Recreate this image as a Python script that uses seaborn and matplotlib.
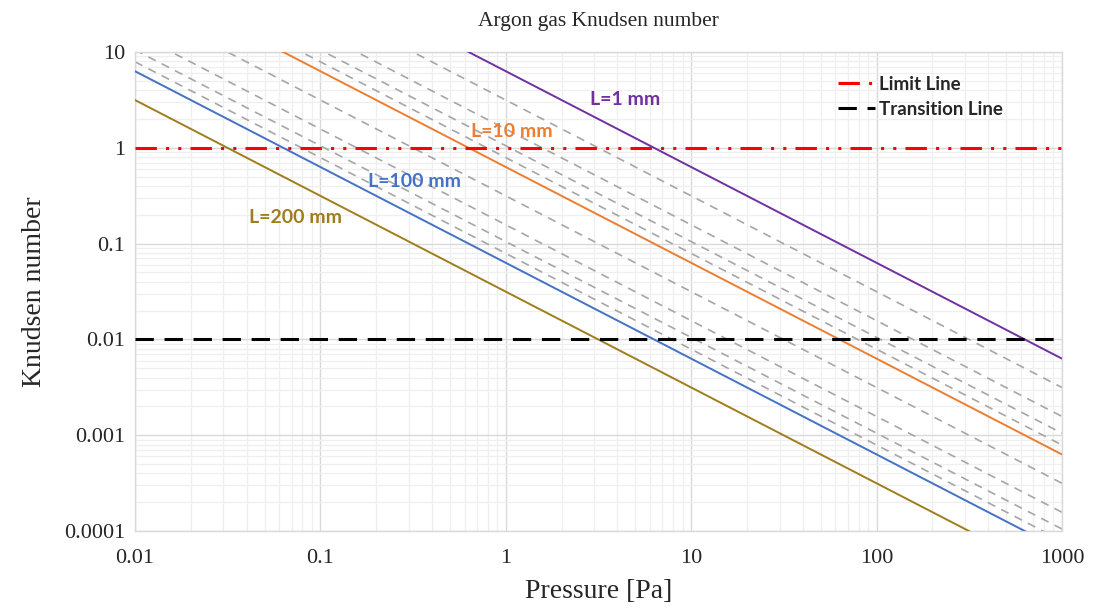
import numpy as np
import pandas as pd
import matplotlib
matplotlib.use("Agg")
import matplotlib.pyplot as plt
import matplotlib.ticker as mticker
import seaborn as sns

# Pressure range of the chart (Pa) - each Knudsen line is straight on log-log axes
pressure = [0.01, 1000]

# Knudsen number at p = 0.01 Pa and p = 1000 Pa
main_labels = ["L=1 mm", "L=10 mm", "L=100 mm", "L=200 mm"]
main_kn_start = [630, 63, 6.3, 3.15]
main_kn_end = [0.0063, 0.00063, 0.000063, 0.0000315]
main_colors = ["#7030A0", "#ED7D31", "#4472C4", "#A07D1C"]

# intermediate lengths (grey dashed), L = 2, 4, 6, 8 mm and 20, 40, 60, 80 mm
grey_lengths = [2, 4, 6, 8, 20, 40, 60, 80]
grey_kn_start = [315, 157, 105, 79, 31.5, 15.7, 10.5, 7.9]
grey_kn_end = [0.00315, 0.00157, 0.00105, 0.00079, 0.000315, 0.000157, 0.000105, 0.000079]

limit_kn = 1.0
transition_kn = 0.01

sns.set_style("white")
plt.rcParams["font.family"] = ["Liberation Serif", "DejaVu Serif"]

fig = plt.figure(figsize=(10.94, 6.08), dpi=100)
ax = fig.add_axes([0.1234, 0.1266, 0.8473, 0.7879])

# grey dashed lines first (behind)
for L, k0, k1 in zip(grey_lengths, grey_kn_start, grey_kn_end):
    df = pd.DataFrame({"p": pressure, "kn": [k0, k1]})
    sns.lineplot(data=df, x="p", y="kn", ax=ax, color="#A6A6A6", lw=1.2,
                 linestyle=(0, (5, 4)), zorder=2)

for lab, k0, k1, c in zip(main_labels, main_kn_start, main_kn_end, main_colors):
    df = pd.DataFrame({"p": pressure, "kn": [k0, k1]})
    sns.lineplot(data=df, x="p", y="kn", ax=ax, color=c, lw=1.4, zorder=3)

# reference lines
lim = ax.axhline(limit_kn, color="#FF0000", lw=2.2,
                 linestyle=(0, (7, 3, 1, 3, 1, 3)), zorder=4, label="Limit Line")
tra = ax.axhline(transition_kn, color="black", lw=2.2,
                 linestyle=(0, (6, 3.5)), zorder=4, label="Transition Line")

ax.set_xscale("log")
ax.set_yscale("log")
ax.set_xlim(0.01, 1000)
ax.set_ylim(0.0001, 10)

ax.xaxis.set_major_locator(mticker.LogLocator(base=10, numticks=10))
ax.yaxis.set_major_locator(mticker.LogLocator(base=10, numticks=10))
ax.xaxis.set_minor_locator(mticker.LogLocator(base=10, subs=np.arange(2, 10), numticks=20))
ax.yaxis.set_minor_locator(mticker.LogLocator(base=10, subs=np.arange(2, 10), numticks=20))
fmt = mticker.FuncFormatter(lambda v, pos: "{:g}".format(v))
ax.xaxis.set_major_formatter(fmt)
ax.yaxis.set_major_formatter(fmt)
ax.xaxis.set_minor_formatter(mticker.NullFormatter())
ax.yaxis.set_minor_formatter(mticker.NullFormatter())

ax.grid(which="major", color="#D9D9D9", lw=1.0)
ax.grid(which="minor", color="#EFEFEF", lw=0.9)
ax.set_axisbelow(True)
ax.tick_params(which="both", length=0, labelsize=16)
ax.tick_params(axis="x", pad=13)
ax.tick_params(axis="y", pad=7)
for s in ax.spines.values():
    s.set_color("#D9D9D9")
    s.set_linewidth(1.0)

ax.set_xlabel("Pressure [Pa]", fontsize=20, labelpad=8)
ax.set_ylabel("Knudsen number", fontsize=20, labelpad=12)
ax.set_title("Argon gas Knudsen number", fontsize=15.5, pad=19)

# line labels
lab_font = {"family": ["Lato", "DejaVu Sans"], "weight": "bold", "size": 14}
ax.text(2.85, 3.2, "L=1 mm", color=main_colors[0], fontdict=lab_font, va="center")
ax.text(0.65, 1.47, "L=10 mm", color=main_colors[1], fontdict=lab_font, va="center")
ax.text(0.18, 0.44, "L=100 mm", color=main_colors[2], fontdict=lab_font, va="center")
ax.text(0.041, 0.187, "L=200 mm", color=main_colors[3], fontdict=lab_font, va="center")

leg = ax.legend(handles=[lim, tra], loc="upper left", bbox_to_anchor=(0.74, 0.985),
                frameon=False, handlelength=2.0, handletextpad=0.2, labelspacing=0.4,
                prop={"family": ["Lato", "DejaVu Sans"], "weight": "bold", "size": 13.5})

fig.savefig("out.png", dpi=100)
